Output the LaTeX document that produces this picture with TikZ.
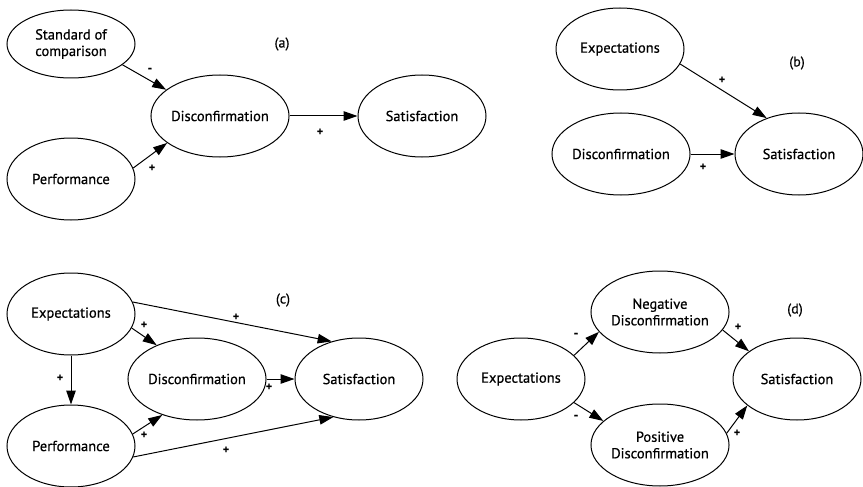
\documentclass[tikz,border=0pt]{standalone}
\usepackage{fontspec}
\setmainfont[FakeBold=0.6]{PT Sans}
\usetikzlibrary{shapes.geometric,arrows.meta}
\begin{document}
\begin{tikzpicture}[x=1pt,y=-1pt,
  concept/.style={ellipse,draw,line width=1pt,inner sep=0pt,
    minimum width=128pt,minimum height=82pt,align=center,
    font=\fontsize{14.5}{16.5}\selectfont},
  link/.style={line width=1pt,-{Triangle[length=14pt,width=9.5pt]}},
  sign/.style={inner sep=0pt,font=\fontsize{12}{13}\selectfont\bfseries},
  panel/.style={inner sep=0pt,font=\fontsize{14}{16}\selectfont}]
\useasboundingbox (0,0) rectangle (863,487);

% (a) disconfirmation paradigm
\node[concept,minimum height=68pt] (a-std) at (71,44) {Standard of\\comparison};
\node[concept] (a-perf) at (71,179) {Performance};
\node[concept] (a-disc) at (220,116) {Disconfirmation};
\node[concept] (a-sat) at (422,116) {Satisfaction};
\node[panel] (a-tag) at (282,44) {(a)};
\draw[link] (a-std.-22) -- (a-disc.154);
\draw[link] (a-perf.10) -- (a-disc.207);
\draw[link] (a-disc) -- (a-sat);
\node[sign] (a-s1) at (150,70) {-};
\node[sign] (a-s2) at (152,168) {+};
\node[sign] (a-s3) at (320,132) {+};

% (b) expectations and disconfirmation
\node[concept] (b-exp) at (620,49) {Expectations};
\node[concept] (b-disc) at (621,154) {Disconfirmation};
\node[concept] (b-sat) at (799,154) {Satisfaction};
\node[panel] (b-tag) at (797,63) {(b)};
\draw[link] (b-exp.-14) -- (b-sat.132);
\draw[link] (b-disc) -- (b-sat);
\node[sign] (b-s1) at (722,80) {+};
\node[sign] (b-s2) at (703,167) {+};

% (c) full model
\node[concept] (c-exp) at (71,314) {Expectations};
\node[concept] (c-perf) at (71,446) {Performance};
\node[concept] (c-disc) at (197,379) {Disconfirmation};
\node[concept] (c-sat) at (359,379) {Satisfaction};
\node[panel] (c-tag) at (283,300) {(c)};
\draw[link] (c-exp.11) -- (c-sat.126);
\draw[link] (c-exp.-13) -- (c-disc.140);
\draw[link] (c-exp) -- (c-perf);
\draw[link] (c-disc) -- (c-sat);
\draw[link] (c-perf.11) -- (c-disc.226);
\draw[link] (c-perf.-10) -- (c-sat.236);
\node[sign] (c-s1) at (236,317) {+};
\node[sign] (c-s2) at (144,325) {+};
\node[sign] (c-s3) at (60,378) {+};
\node[sign] (c-s4) at (269,387) {+};
\node[sign] (c-s5) at (144,435) {+};
\node[sign] (c-s6) at (226,450) {+};

% (d) negative and positive disconfirmation
\node[concept] (d-exp) at (521,379) {Expectations};
\node[concept] (d-neg) at (660,312) {Negative\\Disconfirmation};
\node[concept] (d-pos) at (660,445) {Positive\\Disconfirmation};
\node[concept] (d-sat) at (797,379) {Satisfaction};
\node[panel] (d-tag) at (795,310) {(d)};
\draw[link] (d-exp.24) -- (d-neg.198);
\draw[link] (d-exp.-24) -- (d-pos.157);
\draw[link] (d-neg.-16) -- (d-sat.150);
\draw[link] (d-pos.10) -- (d-sat.208);
\node[sign] (d-s1) at (576,335) {-};
\node[sign] (d-s2) at (576,417) {-};
\node[sign] (d-s3) at (738,327) {+};
\node[sign] (d-s4) at (737,433) {+};
\end{tikzpicture}
\end{document}
